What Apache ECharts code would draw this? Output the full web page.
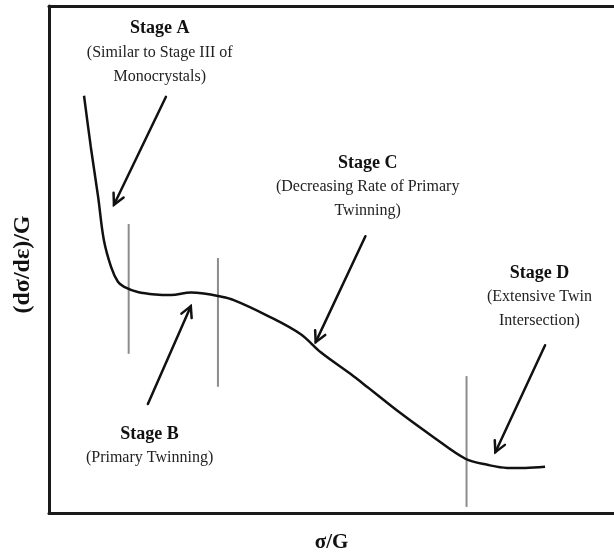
<!DOCTYPE html>
<html>
<head>
<meta charset="utf-8">
<title>Work hardening stages</title>
<script src="https://cdn.jsdelivr.net/npm/echarts@6/dist/echarts.min.js"></script>
<style>
  html, body { margin: 0; padding: 0; background: #fff; }
  #chart { width: 614px; height: 554px; }
</style>
</head>
<body>
<div id="chart"></div>
<script>
// Schematic hardening-rate curve, (dσ/dε)/G against σ/G, in arbitrary units (0-100 on both axes)
const curveSigma = [6.2, 7.4, 8.7, 9.7, 11.0, 12.2, 13.3, 15.7, 18.9, 21.6, 25.1, 27.4, 29.9, 32.7, 38.7, 44.5, 48.1, 53.4, 56.4, 62.2, 68.0, 73.7, 77.6, 81.1, 84.3, 87.8];
const curveRate  = [82.3, 72.2, 62.3, 53.9, 48.5, 45.6, 44.6, 43.6, 43.1, 43.0, 43.5, 43.3, 42.8, 42.0, 38.9, 35.3, 31.7, 27.4, 24.8, 19.7, 15.0, 10.7, 9.5, 8.9, 8.9, 9.1];

// Stage boundaries (vertical markers)
const boundarySigma = [14.1, 29.9, 73.9];
const boundaryLow   = [31.4, 24.9, 1.2];
const boundaryHigh  = [57.0, 50.3, 27.0];

// Stage annotations
const stageNames = ['Stage A', 'Stage B', 'Stage C', 'Stage D'];
const stageNotes = [
  ['(Similar to Stage III of', 'Monocrystals)'],
  ['(Primary Twinning)'],
  ['(Decreasing Rate of Primary', 'Twinning)'],
  ['(Extensive Twin', 'Intersection)']
];
const labelAnchor = [[19.6, 95.5], [17.8, 15.6], [56.4, 69.0], [86.8, 47.3]];
const arrowFrom   = [[20.7, 82.1], [17.5, 21.5], [56.0, 54.6], [87.8, 33.1]];
const arrowTo     = [[11.5, 60.8], [25.1, 40.8], [47.2, 33.7], [79.0, 12.0]];

const SERIF = '"Liberation Serif", "DejaVu Serif", serif';
const INK = '#111';

const curveData = curveSigma.map((s, i) => [s, curveRate[i]]);
const boundaryData = boundarySigma.map((s, i) => [s, boundaryLow[i], boundaryHigh[i]]);
const arrowData = arrowFrom.map((f, i) => [f[0], f[1], arrowTo[i][0], arrowTo[i][1]]);

const chart = echarts.init(document.getElementById('chart'), null, { renderer: 'canvas' });

const hiddenAxisParts = {
  axisTick: { show: false },
  axisLabel: { show: false },
  splitLine: { show: false }
};

chart.setOption({
  animation: false,
  backgroundColor: '#fff',
  grid: { left: 49, right: 0, top: 6, bottom: 41, outerBoundsMode: 'none' },
  xAxis: [
    Object.assign({
      type: 'value', min: 0, max: 100, position: 'bottom',
      axisLine: { show: true, lineStyle: { color: '#1a1a1a', width: 3 } },
      name: 'σ/G', nameLocation: 'middle', nameGap: 19,
      nameTextStyle: { fontFamily: SERIF, fontWeight: 'bold', fontSize: 21, color: '#111' }
    }, hiddenAxisParts),
    Object.assign({
      type: 'value', min: 0, max: 100, position: 'top',
      axisLine: { show: true, lineStyle: { color: '#1a1a1a', width: 3 } }
    }, hiddenAxisParts)
  ],
  yAxis: Object.assign({
    type: 'value', min: 0, max: 100,
    axisLine: { show: true, lineStyle: { color: '#1a1a1a', width: 3 } },
    name: '(dσ/dε)/G', nameLocation: 'middle', nameGap: 14, nameRotate: 90,
    nameTextStyle: { fontFamily: SERIF, fontWeight: 'bold', fontSize: 24, color: '#111',
                     padding: [0, 10, 0, 0] }
  }, hiddenAxisParts),
  series: [
    {
      type: 'line',
      data: curveData,
      smooth: 0.35,
      showSymbol: false,
      lineStyle: { color: INK, width: 2.5 },
      z: 3
    },
    {
      type: 'custom',
      data: boundaryData,
      encode: { x: 0, y: [1, 2] },
      renderItem: function (params, api) {
        const a = api.coord([api.value(0), api.value(1)]);
        const b = api.coord([api.value(0), api.value(2)]);
        return {
          type: 'line',
          shape: { x1: a[0], y1: a[1], x2: b[0], y2: b[1] },
          style: { stroke: '#8c8c8c', lineWidth: 2 }
        };
      },
      z: 2
    },
    {
      type: 'custom',
      data: arrowData,
      encode: { x: [0, 2], y: [1, 3] },
      renderItem: function (params, api) {
        const p0 = api.coord([api.value(0), api.value(1)]);
        const p1 = api.coord([api.value(2), api.value(3)]);
        const ang = Math.atan2(p1[1] - p0[1], p1[0] - p0[0]);
        const L = 12, spread = Math.PI / 6.5;
        const w1 = [p1[0] - L * Math.cos(ang - spread), p1[1] - L * Math.sin(ang - spread)];
        const w2 = [p1[0] - L * Math.cos(ang + spread), p1[1] - L * Math.sin(ang + spread)];
        return {
          type: 'group',
          children: [
            { type: 'line', shape: { x1: p0[0], y1: p0[1], x2: p1[0], y2: p1[1] },
              style: { stroke: INK, lineWidth: 2.5, lineCap: 'round' } },
            { type: 'polyline', shape: { points: [w1, p1, w2] },
              style: { stroke: INK, lineWidth: 2.5, fill: null, lineJoin: 'miter', lineCap: 'round' } }
          ]
        };
      },
      z: 4
    },
    {
      type: 'custom',
      data: labelAnchor,
      renderItem: function (params, api) {
        const c = api.coord([api.value(0), api.value(1)]);
        const i = params.dataIndex;
        const children = [{
          type: 'text',
          x: c[0], y: c[1],
          style: { text: stageNames[i], fontFamily: SERIF, fontWeight: 'bold', fontSize: 18,
                   fill: '#111', align: 'center', verticalAlign: 'middle' }
        }];
        stageNotes[i].forEach(function (line, k) {
          children.push({
            type: 'text',
            x: c[0], y: c[1] + 24 * (k + 1),
            style: { text: line, fontFamily: SERIF, fontSize: 16,
                     fill: '#222', align: 'center', verticalAlign: 'middle' }
          });
        });
        return { type: 'group', children: children };
      },
      z: 5
    }
  ]
});
</script>
</body>
</html>
